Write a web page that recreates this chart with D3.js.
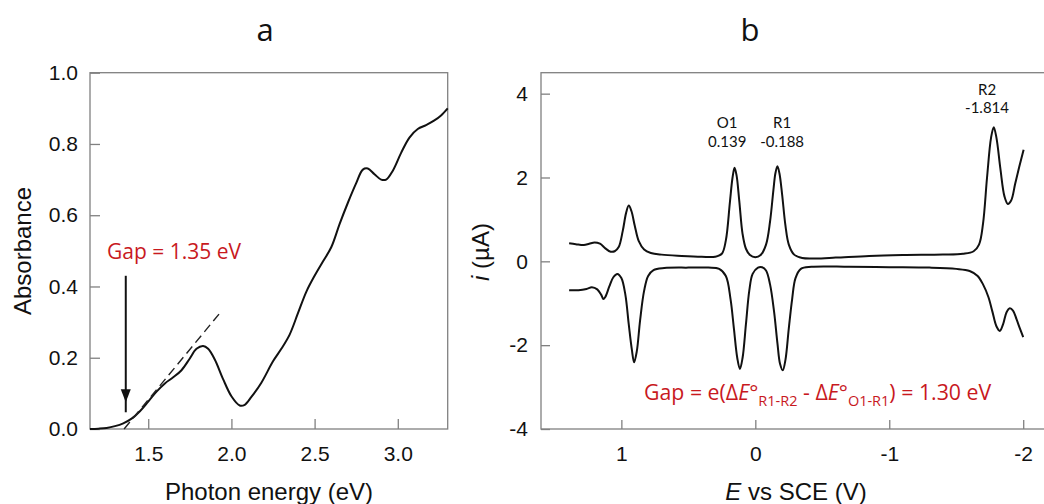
<!DOCTYPE html>
<html><head><meta charset="utf-8">
<script src="https://cdn.jsdelivr.net/npm/d3@7"></script>
<style>
html,body{margin:0;padding:0;background:#fff;}
svg{display:block;}
.tick text{font-family:"Liberation Sans",Arial,sans-serif;font-size:21px;fill:#111;}
</style></head>
<body>
<svg id="chart" width="1044" height="504"></svg>
<script>
// ---------- Panel a data: absorbance spectrum ----------
const photonEnergy = [1.15,1.20,1.25,1.30,1.35,1.40,1.45,1.50,1.55,1.60,1.65,1.70,1.75,1.79,1.83,1.86,1.90,1.95,2.00,2.05,2.08,2.12,2.18,2.25,2.30,2.35,2.40,2.45,2.50,2.55,2.60,2.65,2.70,2.75,2.79,2.82,2.86,2.90,2.93,2.97,3.02,3.07,3.12,3.17,3.22,3.26,3.30];
const absorbance   = [0.000,0.001,0.003,0.008,0.016,0.029,0.050,0.077,0.105,0.128,0.145,0.165,0.198,0.225,0.233,0.225,0.195,0.140,0.092,0.066,0.068,0.090,0.130,0.190,0.225,0.265,0.325,0.385,0.430,0.470,0.510,0.575,0.635,0.690,0.728,0.731,0.715,0.700,0.700,0.725,0.775,0.818,0.842,0.853,0.866,0.880,0.900];
const tangentE = [1.355, 1.93];
const tangentA = [0.0, 0.325];
const arrowE = 1.365, arrowFrom = 0.43, arrowTo = 0.075;
const xTicksA = [1.5, 2.0, 2.5, 3.0];
const yTicksA = [0, 0.2, 0.4, 0.6, 0.8, 1.0];
const gapLabelA = "Gap = 1.35 eV";

// ---------- Panel b data: cyclic voltammogram ----------
const upperE = [1.39,1.34,1.28,1.24,1.20,1.16,1.12,1.08,1.05,1.02,0.99,0.965,0.945,0.925,0.90,0.87,0.83,0.78,0.70,0.55,0.40,0.30,0.25,0.22,0.19,0.17,0.155,0.14,0.12,0.095,0.07,0.04,0.0,-0.04,-0.08,-0.11,-0.135,-0.15,-0.165,-0.18,-0.20,-0.225,-0.25,-0.29,-0.35,-0.45,-0.6,-0.85,-1.1,-1.4,-1.55,-1.63,-1.67,-1.70,-1.73,-1.76,-1.78,-1.80,-1.83,-1.86,-1.885,-1.91,-1.94,-1.97,-2.003];
const upperI = [0.43,0.41,0.39,0.42,0.45,0.42,0.31,0.23,0.24,0.34,0.72,1.15,1.33,1.2,0.85,0.48,0.28,0.2,0.16,0.13,0.11,0.11,0.18,0.5,1.4,2.0,2.23,2.05,1.45,0.65,0.3,0.15,0.10,0.15,0.4,0.95,1.7,2.1,2.27,2.1,1.6,0.85,0.4,0.16,0.08,0.07,0.09,0.13,0.15,0.16,0.18,0.24,0.4,0.9,2.0,2.95,3.2,2.95,2.2,1.55,1.37,1.45,1.85,2.25,2.66];
const lowerE = [1.39,1.32,1.26,1.22,1.18,1.15,1.135,1.12,1.09,1.06,1.03,1.00,0.97,0.945,0.922,0.905,0.885,0.86,0.83,0.80,0.76,0.68,0.5,0.35,0.27,0.22,0.185,0.16,0.135,0.115,0.095,0.07,0.045,0.02,-0.02,-0.05,-0.08,-0.11,-0.14,-0.165,-0.185,-0.205,-0.225,-0.25,-0.275,-0.30,-0.34,-0.42,-0.7,-1.0,-1.3,-1.5,-1.6,-1.66,-1.70,-1.74,-1.77,-1.80,-1.825,-1.85,-1.875,-1.90,-1.925,-1.95,-1.975,-2.0];
const lowerI = [-0.69,-0.69,-0.66,-0.62,-0.67,-0.8,-0.9,-0.85,-0.6,-0.38,-0.30,-0.40,-0.8,-1.5,-2.1,-2.41,-2.15,-1.4,-0.7,-0.35,-0.21,-0.16,-0.15,-0.15,-0.18,-0.35,-0.9,-1.6,-2.3,-2.57,-2.3,-1.5,-0.7,-0.3,-0.15,-0.14,-0.22,-0.55,-1.2,-1.95,-2.45,-2.6,-2.35,-1.6,-0.9,-0.4,-0.18,-0.13,-0.13,-0.14,-0.15,-0.18,-0.23,-0.35,-0.55,-0.85,-1.2,-1.55,-1.66,-1.5,-1.22,-1.12,-1.18,-1.38,-1.6,-1.81];
const xTicksB = [1, 0, -1, -2];
const yTicksB = [4, 2, 0, -2, -4];
const peakNames  = ["O1", "R1", "R2"];
const peakValues = ["0.139", "-0.188", "-1.814"];
const peakLabelE = [0.21, -0.20, -1.73];
const peakLabelI = [3.17, 3.17, 3.97];

const svg = d3.select("#chart");
const RED = "#c8191e";
const AXC = "#808080";
const SANS = '"Liberation Sans", Arial, sans-serif';
const CAL = '"Open Sans", "Noto Sans", sans-serif';
const LATO = 'Lato, "Open Sans", sans-serif';

// ---------- Panel a ----------
const ax = d3.scaleLinear().domain([1.15, 3.30]).range([90, 447.7]);
const ay = d3.scaleLinear().domain([0, 1]).range([429, 72.7]);
const ga = svg.append("g");

ga.append("rect").attr("x", ax.range()[0]).attr("y", ay.range()[1])
  .attr("width", ax.range()[1]-ax.range()[0]).attr("height", ay.range()[0]-ay.range()[1])
  .attr("fill","none").attr("stroke",AXC).attr("stroke-width",1.3);

const axA = ga.append("g").attr("transform",`translate(0,${ay.range()[0]})`)
  .call(d3.axisBottom(ax).tickValues(xTicksA).tickFormat(d3.format(".1f")).tickSizeInner(-10).tickSizeOuter(0).tickPadding(17));
const ayA = ga.append("g").attr("transform",`translate(${ax.range()[0]},0)`)
  .call(d3.axisLeft(ay).tickValues(yTicksA).tickFormat(d3.format(".1f")).tickSizeInner(-10).tickSizeOuter(0).tickPadding(12));
[axA, ayA].forEach(g => { g.select(".domain").remove(); g.selectAll(".tick line").attr("stroke",AXC).attr("stroke-width",1.3); });

const specData = photonEnergy.map((e,k)=>[e, absorbance[k]]);
ga.append("path").datum(specData)
  .attr("d", d3.line().x(d=>ax(d[0])).y(d=>ay(d[1])).curve(d3.curveCatmullRom.alpha(0.5)))
  .attr("fill","none").attr("stroke","#111").attr("stroke-width",2);

ga.append("line").attr("x1",ax(tangentE[0])).attr("y1",ay(tangentA[0]))
  .attr("x2",ax(tangentE[1])).attr("y2",ay(tangentA[1]))
  .attr("stroke","#222").attr("stroke-width",1.4).attr("stroke-dasharray","9,5");

// arrow
ga.append("line").attr("x1",ax(arrowE)).attr("x2",ax(arrowE))
  .attr("y1",ay(arrowFrom)).attr("y2",ay(arrowTo)+10)
  .attr("stroke","#111").attr("stroke-width",2);
const tipX = ax(arrowE), tipY = ay(arrowTo);
ga.append("path").attr("d",`M${tipX},${tipY} L${tipX-5},${tipY-13} L${tipX+5},${tipY-13} Z`).attr("fill","#111");

ga.append("text").attr("x",107).attr("y",259).attr("font-family",CAL).attr("font-size",21)
  .attr("fill",RED).text(gapLabelA);

ga.append("text").attr("x",265).attr("y",41).attr("text-anchor","middle")
  .attr("font-family",CAL).attr("font-size",31).attr("fill","#111").text("a");
ga.append("text").attr("x",269).attr("y",500).attr("text-anchor","middle")
  .attr("font-family",SANS).attr("font-size",24).attr("fill","#111").text("Photon energy (eV)");
ga.append("text").attr("transform","translate(31,251) rotate(-90)").attr("text-anchor","middle")
  .attr("font-family",SANS).attr("font-size",24).attr("fill","#111").text("Absorbance");

// ---------- Panel b ----------
const bx = d3.scaleLinear().domain([1.6, -2.2]).range([541, 1050]);
const by = d3.scaleLinear().domain([-4, 4.5]).range([429, 72.7]);
const gb = svg.append("g");

gb.append("rect").attr("x", bx.range()[0]).attr("y", by.range()[1])
  .attr("width", bx.range()[1]-bx.range()[0]).attr("height", by.range()[0]-by.range()[1])
  .attr("fill","none").attr("stroke",AXC).attr("stroke-width",1.3);

const axB = gb.append("g").attr("transform",`translate(0,${by.range()[0]})`)
  .call(d3.axisBottom(bx).tickValues(xTicksB).tickFormat(d3.format("d")).tickSizeInner(-9).tickSizeOuter(0).tickPadding(17));
const ayB = gb.append("g").attr("transform",`translate(${bx.range()[0]},0)`)
  .call(d3.axisLeft(by).tickValues(yTicksB).tickFormat(d3.format("d")).tickSizeInner(-9).tickSizeOuter(0).tickPadding(13));
[axB, ayB].forEach(g => { g.select(".domain").remove(); g.selectAll(".tick line").attr("stroke",AXC).attr("stroke-width",1.3); });
axB.selectAll(".tick text").text(d=>String(d).replace("\u2212","-"));
ayB.selectAll(".tick text").text(d=>String(d).replace("\u2212","-"));

const cvLine = d3.line().x(d=>bx(d[0])).y(d=>by(d[1])).curve(d3.curveCatmullRom.alpha(0.5));
gb.append("path").datum(upperE.map((e,k)=>[e, upperI[k]])).attr("d",cvLine)
  .attr("fill","none").attr("stroke","#111").attr("stroke-width",2);
gb.append("path").datum(lowerE.map((e,k)=>[e, lowerI[k]])).attr("d",cvLine)
  .attr("fill","none").attr("stroke","#111").attr("stroke-width",2);

peakNames.forEach((n,k)=>{
  gb.append("text").attr("text-anchor","middle").attr("font-family",LATO)
    .attr("font-size",15).attr("fill","#111")
    .attr("x",bx(peakLabelE[k])).attr("y",by(peakLabelI[k])).text(n);
  gb.append("text").attr("text-anchor","middle").attr("font-family",LATO)
    .attr("font-size",15).attr("fill","#111")
    .attr("x",bx(peakLabelE[k])).attr("y",by(peakLabelI[k])+18.5).text(peakValues[k]);
});

const gt = gb.append("text").attr("x",644).attr("y",400).attr("font-family",CAL)
  .attr("font-size",21.3).attr("fill",RED);
gt.append("tspan").text("Gap = e(\u0394");
gt.append("tspan").attr("font-style","italic").text("E");
gt.append("tspan").text("\u00B0");
gt.append("tspan").attr("font-size",14.5).attr("dy",6).text("R1-R2");
gt.append("tspan").attr("dy",-6).text(" - \u0394");
gt.append("tspan").attr("font-style","italic").text("E");
gt.append("tspan").text("\u00B0");
gt.append("tspan").attr("font-size",14.5).attr("dy",6).text("O1-R1");
gt.append("tspan").attr("dy",-6).text(") = 1.30 eV");

gb.append("text").attr("x",750).attr("y",41).attr("text-anchor","middle")
  .attr("font-family",CAL).attr("font-size",31).attr("fill","#111").text("b");
const xtb = gb.append("text").attr("x",796).attr("y",500).attr("text-anchor","middle")
  .attr("font-family",SANS).attr("font-size",24).attr("fill","#111");
xtb.append("tspan").attr("font-style","italic").text("E");
xtb.append("tspan").text(" vs SCE (V)");
const ytb = gb.append("text").attr("transform","translate(489,252) rotate(-90)").attr("text-anchor","middle")
  .attr("font-family",SANS).attr("font-size",24).attr("fill","#111");
ytb.append("tspan").attr("font-style","italic").text("i");
ytb.append("tspan").text(" (\u00B5A)");
</script>
</body></html>
